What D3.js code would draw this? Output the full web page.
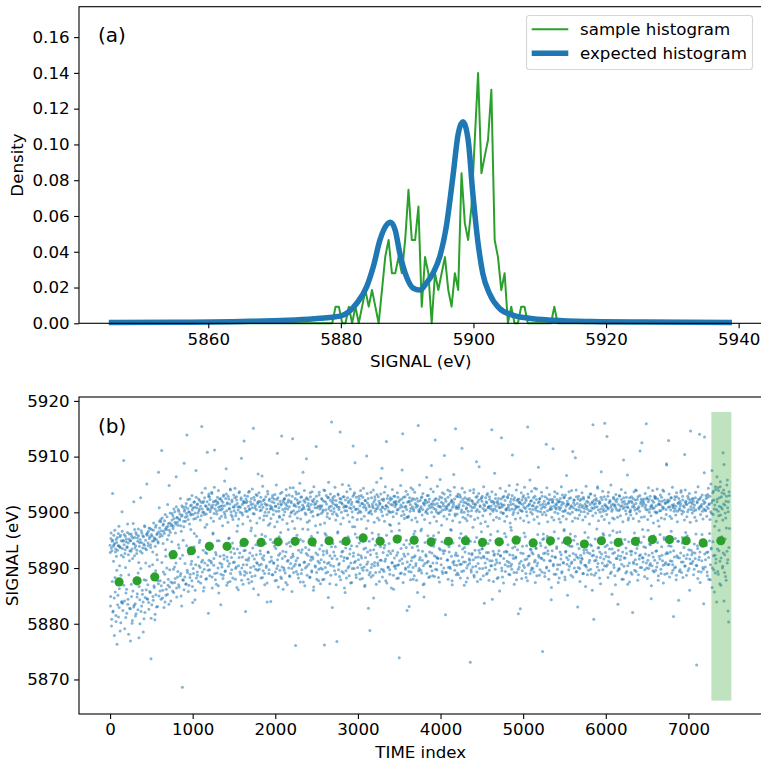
<!DOCTYPE html>
<meta charset="utf-8">
<script src="https://cdn.jsdelivr.net/npm/d3@7"></script>
<style>
body { margin: 0; background: #fff; }
text { font-family: "DejaVu Sans", sans-serif; fill: #000; }
</style>
<body>
<script>

// ---- panel (a) data ----
var histBinStart = 5876.2, histBinWidth = 0.5;
var sampleDensity = [
  0, 0, 0, 0, 0, 0, 0.0093, 0.0093, 0, 0,
  0.0093, 0, 0.0093, 0, 0.0093, 0.0186, 0.0093, 0.0186, 0.0093, 0,
  0.0186, 0.0373, 0.0466, 0.028, 0.028, 0.037, 0.028, 0.0466, 0.0746, 0.0466,
  0.0466, 0.0653, 0.0093, 0.037, 0.028, 0, 0.028, 0.0186, 0.028, 0.037,
  0.0186, 0.0093, 0.028, 0.0186, 0.0839, 0.056, 0.0466, 0.0653, 0.1026, 0.1399,
  0.0839, 0.0933, 0.1026, 0.1306, 0.0466, 0.037, 0.0186, 0.028, 0, 0.0093,
  0, 0, 0.0093, 0.0093, 0, 0, 0, 0, 0, 0,
  0, 0, 0.0093, 0, 0, 0, 0, 0
];
var expectedSignal = [5845, 5855, 5865, 5872, 5876, 5879.9, 5882.4, 5883.9, 5884.9, 5885.9,
  5886.9, 5887.5, 5888.2, 5888.9, 5889.9, 5890.9, 5891.9, 5892.9, 5893.9, 5894.9,
  5895.9, 5896.9, 5897.7, 5898.4, 5899.2, 5899.9, 5900.7, 5901.4, 5902.4, 5903.9,
  5905.9, 5908.4, 5912, 5918, 5926, 5939];
var expectedDensity = [0.0004, 0.0006, 0.001, 0.0017, 0.0026, 0.004, 0.0112, 0.0205, 0.0317, 0.0466,
  0.055, 0.0565, 0.052, 0.039, 0.026, 0.0197, 0.0186, 0.0225, 0.028, 0.037,
  0.054, 0.082, 0.106, 0.1127, 0.1025, 0.0727, 0.0447, 0.028, 0.0168, 0.0084,
  0.0046, 0.0028, 0.0017, 0.001, 0.0007, 0.0005];

// ---- panel (b) data: signal - 5880 eV, one value every 5 time indices (two interleaved samples) ----
var timeStep = 5, timeShiftB = 2, signalBase = 5880;
var signalOffsetA = [
  14.1, 3.2, 15.3, 13.6, 0.8, 14.8, 23.4, 2.1, 13.9, 15.9, 4.6, 14.4, 8.3, 12.9, 1.5, 15.1, 14.6, -3.7, 13.2, 5.1, 16.2, 14.0, 2.9, 10.4, 15.6, 13.7, 0.2, 14.9, 3.8, 20.1,
  13.5, 2.4, 15.0, 29.3, 14.2, 4.1, 12.6, 15.7, 1.1, 14.7, 6.2, 13.8, 16.4, 3.5, 14.5, -1.9, 15.2, 11.3, 13.1, 2.7, 14.9, 16.1, 4.9, 13.4, 0.6, 15.4, 18.0, 3.0, 14.3, 12.2,
  15.5, 3.6, 14.0, 1.8, 16.0, 13.2, 5.4, 14.8, 9.1, 15.8, -2.5, 13.9, 4.3, 15.1, 22.6, 2.2, 14.6, 16.3, 6.0, 13.6, 3.9, 15.6, 0.9, 14.1, 17.4, 4.7, 15.0, 7.8, 13.3, 25.1,
  15.9, 4.4, 14.5, 16.6, 2.6, 15.3, 5.8, 17.1, 14.2, -6.3, 16.0, 3.4, 15.7, 10.6, 4.9, 16.8, 14.9, 6.5, 15.4, 1.7, 17.3, 5.2, 15.1, 12.4, 16.2, 3.1, 14.7, 7.2, 16.5, 20.8,
  17.2, 5.9, 16.1, 18.3, 6.8, 31.1, 15.8, 4.6, 17.7, 9.3, 16.6, 7.4, 18.5, 3.9, 17.0, 12.1, 6.2, 16.9, 19.2, 5.3, 17.5, 8.0, 15.9, 24.8, 6.6, 18.1, 16.4, 4.1, 11.8, 17.8,
  18.6, 7.3, 19.4, 17.5, 5.6, 18.9, 10.2, 20.1, 8.1, 17.9, 26.4, 6.4, 19.0, 18.2, 9.4, 20.5, 7.0, 13.6, 18.8, 19.7, 8.6, 17.6, 5.0, 19.3, 21.2, -11.4, 7.9, 15.0, 18.4, 6.1,
  20.2, 8.4, 19.1, 21.0, 7.2, 19.8, 33.9, 9.6, 20.7, 18.7, 12.9, 6.9, 20.0, 22.4, 8.9, 19.5, 10.7, 21.3, 7.7, 20.4, 3.8, 19.6, 9.0, 21.8, 16.2, 20.9, 6.0, 18.9, 27.5, 8.2,
  20.8, 9.3, 21.5, 19.9, 7.6, 20.3, 14.6, 22.1, 10.1, 21.1, 8.5, 19.4, 35.4, 20.6, 11.4, 21.7, 5.9, 20.0, 9.8, 22.6, 17.3, 21.2, 8.0, 19.7, 12.6, 21.9, 10.5, 20.5, 1.9, 23.3,
  21.4, 9.7, 22.3, 20.5, 11.2, 21.0, 23.6, 8.4, 20.8, 16.1, 21.9, 10.5, 19.8, 31.2, 22.0, 7.9, 21.3, 12.4, 20.2, 9.1, 22.7, 21.6, 6.8, 20.9, 14.9, 22.4, 10.9, 21.1, 3.4, 20.4,
  22.1, 10.2, 20.7, 21.8, 8.7, 23.1, 11.6, 21.2, 19.6, 9.5, 22.5, 27.8, 20.3, 12.0, 21.7, 7.4, 22.9, 15.3, 20.6, 10.8, 21.5, 24.2, 9.0, 20.1, 11.9, 22.2, 19.2, 8.2, 21.0, 13.5,
  20.9, 11.1, 22.6, 21.3, 9.9, 19.9, 22.8, 6.5, 21.6, 17.6, 20.4, 10.4, 23.5, 21.0, 12.7, 20.0, 8.9, 22.3, 29.7, 10.0, 21.4, 19.5, 7.1, 22.0, 13.1, 21.8, 9.4, 20.7, 2.2, 22.4,
  21.7, 10.6, 20.2, 22.9, 8.0, 21.1, 11.8, 23.8, 20.6, 9.2, 21.9, 16.7, 22.5, 7.6, 20.8, 12.2, 21.5, 35.1, 10.3, 19.7, 22.2, 8.6, 21.2, 14.2, 20.5, 11.0, 23.0, 9.6, 21.8, 5.2,
  22.0, 9.8, 21.0, 20.3, 12.5, 22.7, 10.7, 21.4, 26.5, 8.3, 20.9, 22.1, 11.5, 19.4, 9.0, 21.6, 15.7, 22.8, 10.1, 20.6, 7.3, 21.3, 23.3, 12.8, 20.0, 9.7, 22.4, 18.0, 21.2, 4.0,
  20.7, 11.3, 21.9, 22.6, 8.8, 20.4, 10.9, 21.7, 13.9, 23.2, 9.3, 21.1, 20.2, 7.8, 22.3, 30.6, 10.4, 21.5, 12.3, 20.8, 19.3, 9.6, 22.0, 16.4, 21.3, 8.1, 23.6, 11.7, 20.5, 6.2,
  21.8, 10.0, 22.4, 20.1, 9.1, 21.5, 12.9, 23.0, 21.2, 7.0, 20.6, 11.4, 22.2, 14.6, 21.0, 8.5, 24.4, 10.8, 19.9, 21.7, 9.9, 22.9, 33.2, 12.1, 20.3, 10.3, 21.4, 17.1, 22.5, -3.9,
  21.1, 9.4, 20.0, 22.2, 11.8, 21.6, 8.2, 23.4, 20.9, 10.6, 21.9, 15.1, 22.7, 9.0, 20.4, 13.3, 21.3, 27.2, 7.5, 22.1, 20.7, 11.1, 21.8, 10.0, 19.6, 12.6, 22.6, 8.7, 21.2, 16.9,
  22.3, 10.7, 21.0, 20.5, 8.4, 22.8, 12.0, 21.4, 9.5, 23.7, 20.2, 11.6, 21.9, 6.6, 22.4, 14.0, 20.8, 10.2, 21.6, 31.8, 9.2, 22.0, 19.5, 12.4, 21.1, 7.7, 23.1, 10.9, 20.6, 17.8,
  20.9, 11.5, 22.5, 21.2, 9.8, 20.1, 13.0, 22.0, 8.0, -3.8, 23.9, 10.1, 20.4, 15.9, 21.5, 12.7, 19.8, 9.3, 22.7, 25.4, 11.0, 21.0, 7.2, 22.2, 10.5, 20.3, 13.8, 21.9, 2.9, 22.6,
  21.6, 10.3, 20.7, 22.9, 12.2, 21.3, 8.9, 22.1, 19.7, -3.2, 21.0, 16.3, 23.3, 9.7, 20.5, 10.8, 21.8, 34.4, 7.9, 22.4, 20.0, 12.9, 21.5, 14.4, 22.8, 9.1, 20.9, 11.9, 21.2, 5.6,
  22.2, 9.5, 21.1, 20.3, 11.7, 22.6, 10.0, 21.7, 24.8, 8.6, 20.8, 13.4, 22.3, 10.9, 21.4, 7.4, 20.1, 17.4, 22.9, 12.1, 21.0, 9.9, 23.5, 28.9, 11.2, 20.6, 8.3, 21.9, 15.5, 22.0,
  20.6, 12.4, 21.8, 22.4, 9.0, 21.2, 10.6, 20.0, 23.0, 11.8, 21.6, 8.1, 22.7, 14.8, 20.9, 10.2, 21.3, 6.9, 22.1, 13.6, 20.4, 30.1, 9.6, 21.7, 11.1, 22.5, 19.9, 8.8, 21.0, -1.2,
  13.2, 20.3, 8.4, 22.6, 10.7, 21.5, 15.2, 20.8, 4.6, 21.9, 10.4, 22.8, 20.2, 9.2, 21.4, 12.6, 23.2, 20.7, 10.9, 21.1, 16.0, 22.0, 7.6, 21.6, 11.4, 20.5, 26.1, 9.8, 22.3, 21.0,
  19.4, 12.8, 22.1, 9.4, 23.6, 14.1, 20.6, 11.6, 21.2, 32.7, 7.3, 22.5, 20.9, 10.1, 21.7, 13.0, 20.0, 9.7, 22.2, 17.7, 21.4, 6.4, 22.4, 11.0, 21.3, 20.1, 8.7, 22.9, 10.3, 21.8,
  21.0, 9.9, 22.0, 21.5, 12.3, 20.4, 10.5, 22.7, 8.2, 21.9, -6.1, 11.3, 20.8, 15.6, 21.3, 9.1, 22.4, 27.6, 10.8, 20.2, 21.7, 12.5, 19.6, 8.9, 22.8, 10.0, 21.1, 13.7, 20.5, 2.4,
  21.8, 19.1, 10.2, 22.0, 3.1, 22.6, 10.6, 21.4, 20.7, 9.3, 22.1, 11.9, 21.0, 24.1, 8.0, 20.3, 12.0, 22.3, 16.6, 21.6, 10.4, 20.9, 7.8, 22.5, 13.9, 21.2, 35.6, 9.5, 20.1, 11.5,
  20.2, 22.1, 9.6, 21.0, 17.0, 22.8, 11.4, 20.5, 7.0, 21.6, 4.8, 21.3, 10.8, 22.2, 20.0, 12.1, 21.7, 9.0, 23.0, 20.6, 11.2, 21.9, 14.3, 22.4, 8.5, 20.8, 10.3, 21.5, 28.4, 12.7,
  21.0, 8.6, 22.0, 15.8, 20.7, 12.2, 21.4, 33.0, 9.8, 22.5, 20.1, 10.9, 21.6, 11.8, 19.8, 8.3, 22.3, 13.5, 21.1, 25.9, 20.9, 11.7, 21.8, 22.6, 9.4, 20.4, 13.1, 21.2, 10.0, 23.3,
  14.5, 20.5, 1.6, 22.0, 9.2, 21.1, 20.6, 11.5, 22.7, 10.1, 21.5, 12.9, 20.3, 23.8, 9.9, 21.8, 16.8, 22.2, 7.7, 20.9, 11.0, 21.3, 26.8, 10.6, 22.4, 19.7, 12.3, 21.0, 8.8, 22.9,
  21.0, 9.1, 22.8, 20.7, 11.3, 21.4, 15.4, 23.1, 8.2, 21.9, 10.7, 20.4, 31.5, 12.0, 22.3, 21.2, 9.5, 20.0, 13.7, 22.6, 11.1, 21.7, 7.5, 20.8, 18.5, 21.5, 10.5, 20.2, 22.1, 12.6,
  22.5, 11.4, -6.9, 21.1, 9.7, 20.3, 12.4, 22.0, 10.2, 21.6, 23.5, 8.7, 20.9, 14.7, 21.3, 11.9, 22.7, 29.1, 9.3, 20.5, 21.8, 10.8, 22.2, 13.2, 20.1, 12.7, 21.0, 8.0, 22.4, 16.5,
  13.4, 22.9, 9.9, 20.7, 12.1, 21.4, 3.7, 21.2, 10.9, 22.6, 20.4, 8.9, 21.7, 11.6, 23.4, 20.8, 12.8, 21.1, 9.6, 22.3, 15.0, 20.6, 10.4, 21.9, 34.8, 11.3, 22.0, 20.2, 7.6, 21.5,
  21.8, 27.0, 10.6, 22.5, 21.1, 11.5, 20.3, 8.1, 22.0, 12.5, 21.4, 14.9, 20.9, 5.9, 20.8, 12.2, 21.6, 22.4, 10.0, 21.0, 8.4, 22.7, 19.9, 11.7, 21.3, 16.2, 22.1, 9.4, 20.5, 13.0,
  20.7, 12.9, 22.8, 10.3, 21.3, 23.2, 11.0, 20.4, 8.8, 21.9, 17.3, 22.4, 10.7, 20.6, 30.3, 12.3, 21.5, 20.0, 9.2, 22.6, 13.8, 21.2, 11.8, 20.8, 7.9, 22.1, 25.0, 22.3, 9.8, 21.0,
  21.8, 10.8, 20.4, 2.7, 21.6, 11.2, 20.3, 22.2, 9.5, 21.4, 12.6, 23.0, 20.9, 10.1, 21.7, 15.6, 22.5, 8.3, 20.1, 11.6, 21.1, 35.3, 10.5, 22.7, 21.3, 12.2, 20.6, 9.0, 22.0, 13.3,
  22.1, 10.0, 21.2, 20.5, 12.5, 22.6, 9.3, 21.7, 24.3, 11.4, 20.8, 13.6, 22.3, 8.6, 21.0, 10.9, 20.2, 28.1, 12.0, 21.9, 22.4, 9.7, 21.3, 14.0, 20.7, 11.7, 22.9, -5.0, 21.5, 16.1,
  15.3, 22.0, 9.1, 20.9, 12.7, 21.4, 32.2, 10.2, 22.5, 20.3, 13.1, 21.7, 8.0, 22.2, 11.3, 20.5, 14.4, 21.0, 4.3, 20.6, 12.1, 21.8, 22.3, 10.4, 21.1, 8.9, 22.8, 20.0, 11.9, 21.5,
  20.6, 13.5, 22.3, 9.8, 21.8, 7.4, 20.9, 18.8, 21.9, 10.6, 22.5, 20.8, 12.4, 21.3, 9.4, 23.1, 20.2, 11.0, 21.6, 16.7, 22.7, 8.4, 20.4, 12.9, 21.1, 26.6, 10.7, 22.0, 21.4, 11.5,
  21.5, 23.7, 10.3, 20.7, 13.9, 22.6, 8.7, 21.2, 11.1, 20.0, 30.9, 12.6, 21.7, 22.2, 10.0, 21.3, 15.7, 20.5, 9.3, 22.8, 12.0, 21.6, 3.0, 22.4, 11.8, 21.0, 20.4, 9.9, 22.1, 12.3,
  10.9, 22.4, 20.9, 11.6, 21.2, 9.0, 22.7, 13.2, 20.1, 10.5, 21.5, 6.7, 21.1, 10.2, 22.0, 20.6, 12.8, 21.8, 9.6, 22.6, 20.3, 11.4, 21.4, 14.2, 23.3, 8.9, 20.8, 12.2, 21.9, 35.7,
  20.7, 0.8, 22.2, 11.3, 20.9, 21.6, 9.1, 22.5, 12.0, 21.0, 24.6, 10.8, 20.4, 13.7, 22.0, 8.2, 21.7, 11.9, 20.6, 27.3, 12.5, 22.3, 21.1, 9.7, 20.2, 15.9, 22.8, 10.4, 21.4, 12.8,
  20.3, 12.1, 21.0, 33.6, 10.6, 22.9, 20.6, 11.2, 21.7, 13.4, 22.1, 9.0, 20.9, 14.6, 21.3, 5.3, 20.5, 12.6, 21.5, 22.7, 10.1, 21.2, 8.6, 22.2, 20.8, 11.7, 21.9, 16.4, 22.4, 9.5,
  12.2, 21.4, 9.8, 23.0, 20.5, 11.5, 21.1, 15.2, 22.3, 8.0, 21.8, 12.9, 20.7, 29.4, 10.3, 22.0, 21.5, 11.8, 20.3, 13.6, 22.7, 9.4, 21.0, 7.1, 20.8, 19.0, 21.7, 10.9, 22.6, 20.1,
  20.4, 9.2, 22.0, 13.0, 21.7, 2.0, 22.5, 11.1, 21.3, 20.9, 9.6, 22.2, 12.7, 21.6, 23.9, 10.7, 20.6, 14.1, 22.8, 8.8, 21.0, 11.6, 20.2, 31.0, 12.4, 21.9, 22.4, 10.1, 21.2, 16.9,
  11.8, 21.5, 13.8, 22.4, 8.5, 20.9, 12.5, 21.3, 35.9, 10.0, 22.6, 20.4, 11.4, 21.9, 9.9, 22.3, 14.3, 20.6, 10.8, 21.1, 4.5, 21.0, 10.4, 22.1, 20.7, 12.0, 21.8, 9.3, 22.9, 20.1,
  22.5, 9.6, 21.2, 13.1, 20.0, 10.9, 22.4, 7.8, 21.5, 17.5, 22.0, 11.6, 21.4, 20.3, 9.0, 22.7, 12.3, 21.0, 24.0, 10.5, 20.8, 15.5, 22.2, 8.9, 21.6, 11.0, 20.5, 28.7, 12.8, 21.8,
  12.6, 21.9, 32.9, 10.7, 22.1, 21.0, 11.3, 20.4, 13.9, 22.6, 9.1, 21.3, 10.6, 20.8, 1.3, 21.4, 12.0, 22.3, 20.6, 10.2, 21.1, 8.7, 22.8, 20.2, 11.9, 21.7, 14.8, 22.5, 9.4, 20.7,
  9.7, 21.6, 23.6, 11.1, 20.3, 14.5, 22.9, 8.3, 21.2, 12.2, 20.9, 30.4, 10.4, 21.8, 22.0, 11.7, 21.4, 15.8, 20.1, 9.5, 22.5, 13.3, 21.7, 6.0, 22.2, 10.8, 21.0, 20.5, 12.4, 22.4,
  21.5, 11.2, 22.0, 20.8, 9.8, 21.3, 12.7, 22.6, 20.4, 10.5, -7.4, 21.9, 14.0, 8.1, 22.3, 11.5, 20.6, 34.0, 12.9, 21.1, 22.7, 9.3, 21.4, 16.0, 20.2, 10.1, 22.1, 3.6, 21.6, 33.5,
  21.8, 10.2, 20.3, 22.5, 12.8, 21.0, 8.6, 23.2, 20.7, 11.9, 21.5, 14.9, 22.9, 7.9, 20.1, 13.4, 21.7, 27.5, 10.0, 23.5, 19.6, 12.2, 22.2, 5.7, 21.3, 9.1, 24.1, 11.6, 20.5, 26.4,
  22.4, 9.4, 20.2, 23.9, 13.1, 21.1, 7.2, 24.6, 19.5, 11.8, 22.8, 15.6, 20.6, 10.3, 30.7, 21.5, 4.1, 23.3, 12.4, 19.9, 8.5, 22.0, 17.2, 24.9, 10.9, 20.8, 2.3, 21.9, 13.7, 23.0
];
var signalOffsetB = [
  12.8, 4.9, 16.3, -0.4, 13.1, 7.6, 15.0, 2.3, 11.2, 14.2, -2.1, 16.8, 5.7, 13.4, 0.4, 12.1, 9.6, 15.5, 3.4, 14.0, 1.2, 17.5, 6.3, 13.8, -1.3, 15.9, 8.7, 12.3, 4.0, 16.6,
  3.7, 14.8, 12.0, 6.9, 16.0, -0.9, 13.3, 10.1, 5.5, 15.2, 1.9, 13.7, 17.9, 4.4, 12.4, 8.8, 16.1, 2.8, 14.9, -3.1, 13.0, 7.1, 15.7, 0.1, 11.7, 5.9, 14.4, 21.9, 3.3, 16.9,
  13.6, 1.4, 16.4, 8.2, 12.6, 4.8, 15.4, 2.5, 17.0, 11.0, 6.7, 14.6, 0.0, 13.0, 9.9, 16.7, 3.2, 12.7, 5.3, 15.8, -1.5, 14.3, 7.9, 17.6, 2.0, 13.5, 10.9, 6.1, 16.1, 4.5,
  16.3, 7.0, 14.0, 3.8, 17.2, 10.3, 15.6, 5.6, 13.7, 1.0, 16.9, 8.6, 14.8, 12.9, 4.2, 18.1, 6.8, 15.2, 0.7, 13.9, 9.5, 17.7, 3.0, 16.0, 11.5, 7.7, 14.5, 27.2, 5.0, 18.4,
  15.6, 7.7, 18.7, 4.4, 16.7, 11.0, 19.0, 6.0, 14.4, 17.9, 2.9, 16.2, 8.9, 19.6, 13.3, 5.1, 17.3, 10.0, 15.1, 21.4, 6.9, 18.0, 3.5, 16.8, 9.7, 19.9, 12.6, 7.5, 17.6, 14.7,
  19.8, 5.9, 17.1, 9.8, 20.6, 13.0, 7.4, 18.2, 16.3, 10.9, 21.0, 4.8, 19.1, 8.4, 17.7, 14.2, 20.2, 6.6, 18.6, 11.7, 22.5, 9.0, 16.6, 3.2, 19.5, 12.3, 20.9, 7.8, 17.4, 28.8,
  20.5, 10.8, 18.4, 7.1, 21.6, 14.0, 19.3, 9.2, 22.3, 5.8, 20.1, 12.5, 17.9, 8.3, 21.2, 16.9, 19.7, 11.2, 23.0, 6.7, 20.8, 9.9, 18.8, 13.8, 21.9, 4.3, 19.9, 10.6, 22.7, 15.7,
  21.4, 8.7, 19.2, 12.0, 22.4, 10.4, 20.6, 15.0, 18.6, 7.3, 21.8, 11.1, 23.5, 9.3, 20.0, 13.2, 22.0, 6.5, 19.6, 10.9, 24.3, 12.8, 21.1, 8.1, 17.8, 30.8, 20.7, 9.6, 22.9, 11.4,
  22.8, 8.6, 20.1, 13.7, 19.0, 10.9, 23.4, 6.4, 21.3, 16.3, 18.4, 11.7, 24.5, 9.0, 20.6, 12.8, 22.1, 7.1, 19.7, 14.9, 21.8, 10.0, 23.9, 5.5, 20.4, 18.9, 12.1, 22.5, 8.9, 19.3,
  10.7, 21.2, 17.6, 8.1, 22.9, 12.3, 20.0, 25.6, 9.4, 19.1, 13.9, 23.3, 6.9, 21.5, 11.3, 18.2, 10.3, 22.4, 15.4, 20.7, 7.6, 24.0, 12.9, 19.5, 9.7, 21.9, 14.5, 18.7, 11.0, 23.1,
  20.3, 12.6, 24.3, 8.0, 19.4, 10.2, 22.2, 16.6, 13.4, 21.0, 6.1, 18.8, 11.9, 23.7, 9.3, 20.9, 14.0, 22.6, 7.8, 19.9, 12.0, 17.9, 10.6, 21.7, 32.8, 8.7, 23.0, 13.2, 20.2, 11.5,
  9.1, 22.0, 14.7, 19.2, 11.4, 23.6, 7.3, 20.5, 12.7, 18.5, 10.1, 21.4, 17.2, 8.5, 24.2, 13.6, 19.8, 6.3, 22.7, 11.6, 20.8, 15.8, 9.8, 23.2, 12.4, 18.1, 10.8, 21.6, 26.9, 14.1,
  23.5, 10.5, 19.0, 13.1, 21.9, 8.2, 20.4, 16.0, 11.8, 24.7, 9.5, 18.6, 12.2, 22.3, 7.0, 20.0, 14.4, 21.3, 10.4, 19.4, 3.9, 23.8, 12.9, 17.7, 9.0, 22.1, 11.1, 20.6, 15.1, 18.9,
  12.0, 20.9, 8.8, 23.0, 14.6, 19.6, 10.9, 22.4, 17.4, 7.7, 21.1, 13.5, 24.9, 9.9, 18.3, 11.5, 22.6, 6.6, 20.2, 15.6, 19.1, 12.6, 23.4, 8.4, 21.5, 33.7, 10.2, 18.7, 13.0, 22.2,
  19.5, 9.6, 22.5, 12.1, 20.7, 7.4, 24.1, 14.3, 18.0, 11.2, 21.8, 16.9, 10.0, 23.1, 8.6, 19.3, 13.9, 22.0, 11.9, 20.1, 5.8, 18.4, 12.5, 24.4, 9.2, 21.2, 15.3, 19.7, 10.7, 23.7,
  11.3, 23.3, 15.9, 19.0, 8.9, 21.7, 13.2, 20.3, 10.5, 25.2, 7.5, 18.8, 12.8, 22.8, 9.7, 20.6, 17.0, 14.8, 21.0, 11.0, 23.9, 6.8, 19.9, 13.7, 22.4, 29.6, 10.3, 18.2, 12.3, 20.5,
  21.6, 13.3, 18.5, 8.3, 23.5, 11.4, 20.0, 15.7, 9.3, 22.1, 12.0, 19.3, 6.0, 24.6, 14.2, 21.4, 10.4, 17.6, 12.7, 22.9, 8.0, 20.8, 16.4, 11.2, 19.6, 9.8, 23.6, 13.4, 21.2, 7.2,
  10.0, 19.8, 14.1, 22.3, 7.9, 20.4, 12.4, 24.0, 11.1, 18.1, 16.2, 21.9, 9.1, 23.0, 13.1, 19.2, 10.8, 22.6, 4.7, 20.6, 15.0, 18.9, 12.2, 23.3, 8.7, 21.1, 36.2, 11.7, 19.7, 14.4,
  22.2, 12.9, 20.1, 9.5, 24.5, 13.8, 18.6, 7.0, 21.3, 11.6, 19.4, 16.5, 23.1, 10.6, 20.9, 8.5, 22.5, 14.7, 17.9, 12.1, 21.7, 9.4, 25.0, 13.0, 19.0, 11.3, 22.8, 6.4, 20.3, 15.4,
  13.6, 21.0, 8.2, 23.7, 11.8, 19.5, 15.6, 22.0, 10.3, 18.3, 12.5, 24.2, 7.3, 20.7, 14.0, 21.8, 9.9, 19.1, 31.9, 12.7, 23.2, 11.0, 17.4, 16.1, 20.5, 8.8, 22.7, 13.9, 18.7, 10.1,
  19.9, 11.5, 22.9, 14.5, 20.2, 8.0, 23.9, 12.2, 18.8, 10.0, 21.6, 15.2, 9.6, 24.3, 13.4, 19.3, 6.7, 22.1, 11.9, 20.8, 17.1, 10.7, 23.4, 12.9, 18.5, 2.8, 21.3, 14.8, 20.0, 9.2,
  12.4, 23.6, 10.1, 19.7, 16.3, 21.1, 8.7, 24.0, 13.3, 18.2, 11.0, 22.3, 14.1, 20.6, 7.1, 25.4, 12.0, 19.0, 10.5, 22.8, 15.5, 18.6, 9.3, 21.5, 13.8, 23.3, 11.4, 20.1, 27.9, 8.4,
  20.8, 9.7, 22.4, 13.6, 18.4, 11.2, 24.6, 7.7, 21.2, 15.9, 19.6, 12.3, 23.0, 10.2, 20.3, 14.4, 17.8, 8.9, 22.6, 12.6, 20.0, 16.6, 10.9, 24.1, 13.1, 19.2, 6.2, 21.8, 11.8, 22.9,
  10.4, 21.4, 14.9, 19.8, 8.1, 23.5, 12.8, 20.5, 10.6, 18.0, 16.8, 22.2, 9.0, 24.8, 13.5, 19.4, 11.6, 21.0, 34.1, 7.4, 22.7, 14.2, 18.9, 12.1, 20.9, 9.8, 23.8, 15.0, 19.1, 11.1,
  23.2, 12.5, 19.3, 9.4, 21.9, 14.3, 20.2, 7.9, 24.4, 11.3, 18.6, 13.7, 22.5, 10.1, 20.6, 16.1, 8.6, 23.6, 12.2, 19.0, 10.8, 21.3, 15.4, 18.3, 5.6, 22.0, 13.2, 20.4, 9.9, 24.9,
  11.9, 20.7, 16.7, 22.6, 9.1, 19.5, 13.0, 23.4, 10.4, 21.7, 7.2, 18.7, 14.6, 22.1, 12.4, 20.3, 26.3, 11.0, 19.8, 15.8, 23.0, 8.3, 21.2, 12.9, 18.1, 10.3, 24.2, 14.0, 20.0, 9.5,
  21.5, 10.9, 23.7, 13.9, 19.2, 8.5, 22.3, 15.1, 20.5, 12.0, 18.4, 9.7, 24.7, 11.7, 21.1, 16.4, 19.9, 7.5, 22.8, 13.3, 20.1, 10.6, 17.7, 14.7, 23.5, 9.0, 21.6, 12.6, 19.3, 30.2,
  13.1, 22.4, 9.2, 20.9, 15.3, 18.8, 11.4, 24.0, 8.0, 21.3, 13.8, 19.6, 10.2, 23.1, 16.9, 20.4, 12.1, 22.0, 7.0, 18.5, 14.5, 21.7, 11.2, 24.5, 9.6, 19.4, 35.0, 12.7, 20.7, 10.5,
  19.7, 12.2, 23.3, 8.8, 21.0, 14.0, 18.2, 10.7, 22.7, 16.2, 20.0, 9.4, 24.3, 13.4, 19.1, 11.1, 21.8, 6.9, 23.6, 12.9, 18.9, 15.7, 20.6, 10.0, 22.4, 8.2, 19.5, 14.3, 21.4, 11.6,
  10.8, 23.9, 14.8, 19.3, 9.3, 22.1, 12.6, 20.8, 17.3, 11.5, 24.1, 8.4, 18.7, 13.2, 21.5, 10.3, 20.2, 15.5, 22.9, 7.6, 19.0, 12.0, 23.4, 28.2, 9.9, 21.2, 14.1, 18.0, 11.8, 22.6,
  22.0, 13.5, 19.4, 8.6, 24.6, 11.9, 20.3, 15.0, 18.3, 10.1, 21.9, 12.8, 23.1, 9.1, 17.5, 14.4, 20.9, 7.8, 22.8, 11.3, 19.7, 16.0, 21.1, 10.4, 23.7, 4.4, 20.5, 13.0, 18.6, 12.3,
  12.5, 20.6, 9.8, 23.2, 14.9, 19.1, 11.0, 21.7, 16.6, 8.3, 22.5, 13.1, 18.9, 10.9, 24.3, 12.2, 20.0, 33.4, 9.5, 21.3, 14.6, 19.8, 7.3, 22.9, 12.9, 18.4, 10.6, 23.8, 15.6, 20.4,
  19.3, 11.2, 22.6, 14.2, 20.9, 8.9, 24.8, 12.4, 18.1, 10.3, 21.4, 16.8, 9.8, 23.0, 13.6, 19.6, 11.7, 22.2, 7.1, 20.5, 15.2, 18.8, 12.0, 24.0, 9.2, 21.0, 13.3, 19.9, 1.8, 22.4,
  10.2, 21.8, 15.4, 19.0, 12.7, 23.5, 8.1, 20.2, 13.9, 22.7, 10.5, 18.5, 16.3, 24.5, 11.5, 20.7, 9.0, 22.1, 14.0, 19.4, 7.7, 23.3, 12.1, 18.2, 10.8, 21.5, 25.8, 13.4, 20.0, 9.6,
  23.8, 12.8, 19.7, 9.9, 21.2, 14.8, 18.7, 11.1, 22.9, 7.4, 20.4, 13.5, 24.2, 10.4, 19.2, 16.0, 21.7, 12.3, 18.0, 8.7, 22.5, 14.5, 20.1, 11.8, 23.6, 9.3, 19.6, 15.1, 21.0, 12.6,
  11.4, 20.0, 8.5, 22.8, 13.7, 19.5, 10.0, 24.4, 15.7, 18.3, 12.5, 21.6, 9.5, 23.2, 14.2, 20.6, 11.3, 22.3, 6.5, 19.1, 13.1, 21.9, 31.4, 10.7, 18.6, 16.5, 23.7, 12.0, 20.8, 8.9,
  21.3, 13.8, 23.4, 10.6, 19.8, 15.3, 22.0, 8.2, 20.5, 12.9, 18.2, 11.6, 24.6, 9.1, 21.8, 14.6, 19.3, 10.9, 22.6, 16.9, 20.2, 7.9, 23.1, 13.0, 18.8, 11.9, 21.5, 5.1, 19.9, 14.1,
  9.7, 22.5, 12.2, 19.7, 16.1, 21.0, 10.8, 23.9, 13.9, 18.4, 8.4, 20.8, 15.0, 22.2, 11.5, 19.0, 29.8, 12.4, 24.0, 9.4, 20.4, 14.3, 18.9, 10.1, 22.9, 13.5, 19.5, 7.6, 21.4, 11.2,
  20.1, 11.8, 23.5, 14.7, 18.6, 9.0, 22.4, 12.7, 20.7, 16.4, 19.2, 10.5, 24.7, 13.3, 21.1, 8.8, 19.8, 15.5, 22.8, 11.0, 17.9, 12.6, 23.3, 9.8, 20.3, 14.0, 21.7, 6.0, 19.4, 13.1,
  12.3, 21.4, 8.7, 23.0, 15.2, 19.9, 11.4, 22.1, 17.0, 10.2, 24.3, 13.6, 18.5, 9.6, 21.6, 12.9, 20.0, 7.2, 22.7, 14.5, 19.3, 10.9, 23.8, 16.2, 20.6, 11.6, 18.7, 36.0, 13.8, 21.2,
  22.3, 10.3, 19.6, 14.1, 20.8, 8.3, 23.6, 12.0, 18.1, 15.9, 21.9, 11.0, 24.9, 9.3, 20.2, 13.4, 19.0, 16.7, 22.5, 10.6, 18.8, 12.8, 21.3, 7.0, 23.2, 14.9, 20.4, 11.7, 19.1, 3.5,
  13.2, 20.3, 9.9, 22.9, 16.5, 19.4, 12.1, 24.1, 10.7, 21.2, 14.3, 18.3, 8.0, 22.6, 11.8, 20.9, 15.1, 23.5, 9.1, 19.7, 12.6, 21.5, 26.7, 10.4, 18.6, 14.7, 22.0, 7.5, 20.1, 13.0,
  19.5, 12.4, 22.8, 8.9, 21.0, 14.4, 18.9, 10.8, 23.7, 16.3, 20.4, 11.5, 24.0, 9.4, 19.8, 13.5, 22.3, 7.8, 20.7, 15.4, 18.4, 12.2, 23.0, 10.1, 21.6, 14.6, 19.1, 32.5, 11.9, 22.1,
  11.1, 21.8, 15.6, 19.2, 9.7, 23.4, 13.7, 20.5, 10.9, 22.4, 8.1, 18.7, 16.8, 24.4, 12.3, 20.0, 10.5, 22.9, 14.2, 19.4, 6.8, 21.3, 12.7, 23.9, 9.5, 18.1, 15.8, 20.8, 11.4, 22.6,
  22.7, 13.0, 19.9, 10.2, 24.2, 14.6, 18.5, 8.6, 21.4, 12.1, 20.3, 16.0, 23.1, 9.8, 19.0, 13.8, 22.0, 11.3, 20.6, 7.3, 23.8, 15.1, 18.8, 10.7, 21.7, 12.5, 19.6, 28.5, 9.0, 22.2,
  10.6, 20.9, 14.0, 23.3, 8.4, 19.3, 12.9, 22.6, 16.6, 18.9, 11.2, 24.5, 9.6, 21.1, 13.1, 20.2, 10.0, 22.8, 15.3, 19.5, 7.9, 23.5, 12.2, 18.3, 14.8, 21.6, 4.2, 20.4, 11.8, 22.0,
  21.2, 12.7, 23.9, 9.2, 19.7, 15.5, 22.2, 11.1, 20.1, 13.7, 18.6, 10.3, 24.0, 16.4, 21.5, 8.7, 19.2, 12.4, 22.9, 14.9, 20.5, 9.9, 23.4, 11.6, 18.2, 34.6, 13.2, 21.8, 10.8, 19.9,
  12.8, 22.5, 8.8, 20.3, 14.3, 19.1, 11.7, 23.6, 16.1, 18.5, 10.4, 21.7, 13.5, 24.6, 9.4, 20.8, 12.0, 22.4, 7.4, 19.6, 15.0, 21.0, 11.3, 23.1, 13.9, 18.8, 9.8, 20.6, 27.1, 12.5,
  20.4, 11.5, 23.0, 14.1, 19.3, 9.3, 22.7, 12.9, 24.3, 8.0, 21.4, 16.2, 18.7, 10.6, 25.1, 13.6, 19.8, 6.5, 22.1, 14.7, 23.8, 9.7, 20.6, 17.5, 12.3, 24.6, 10.9, 18.4, 3.9, 21.9,
  13.4, 24.4, 8.9, 19.4, 16.8, 22.6, 11.2, 25.5, 6.9, 20.9, 14.5, 23.5, 10.0, 18.6, 12.7, 24.0, 28.6, 9.2, 21.3, 15.2, 19.0, 7.8, 22.9, 13.0, 25.8, 11.5, 20.1, 0.3, 23.7, 17.1
];
var windowTime = [109, 327, 541, 763, 984, 1202, 1416, 1622, 1828, 2034, 2240, 2446, 2651, 2857, 3063, 3269, 3475, 3680,
  3886, 4096, 4302, 4508, 4709, 4915, 5121, 5330, 5536, 5741, 5947, 6150, 6359, 6564, 6771, 6973, 7179, 7393];
var windowMean = [5887.5, 5887.7, 5888.4, 5892.4, 5893.1, 5893.9, 5893.9, 5894.6, 5894.6, 5894.7, 5894.8, 5894.7, 5894.9, 5894.8, 5895.4, 5894.8, 5895.2, 5895.0,
  5894.7, 5894.8, 5894.9, 5894.6, 5894.7, 5895.0, 5894.5, 5894.9, 5894.9, 5894.3, 5894.9, 5894.6, 5894.8, 5895.1, 5895.1, 5894.9, 5894.5, 5894.9];
var spanTime = [7278, 7520], spanSignal = [5866.2, 5918.0];

var width = 761, height = 763;
var fontSize = "16.67px";
var blue = "#1f77b4", green = "#2ca02c";

var svg = d3.select("body").append("svg")
    .attr("width", width)
    .attr("height", height);

function drawAxes(g, x, y, xTicks, yTicks, yFmt, xLabel, yLabel, yLabelX) {
  var r = x.range(), t = y.range();
  var xa = g.append("g")
      .attr("transform", "translate(0," + t[0] + ")")
      .call(d3.axisBottom(x).tickValues(xTicks).tickSize(4.9).tickPadding(4.5).tickFormat(d3.format("d")));
  var ya = g.append("g")
      .attr("transform", "translate(" + r[0] + ",0)")
      .call(d3.axisLeft(y).tickValues(yTicks).tickSize(4.9).tickPadding(4.5).tickFormat(yFmt));
  [xa, ya].forEach(function(a) {
    a.select(".domain").remove();
    a.selectAll(".tick line").attr("stroke", "#000").attr("stroke-width", 1.1);
    a.selectAll(".tick text").style("font-size", fontSize).style("font-family", "DejaVu Sans");
  });
  g.append("rect")
      .attr("x", r[0]).attr("y", t[1])
      .attr("width", r[1] - r[0]).attr("height", t[0] - t[1])
      .attr("fill", "none").attr("stroke", "#000").attr("stroke-width", 1.1);
  g.append("text")
      .attr("x", (r[0] + r[1]) / 2).attr("y", t[0] + 44)
      .attr("text-anchor", "middle")
      .style("font-size", fontSize)
      .text(xLabel);
  g.append("text")
      .attr("transform", "translate(" + yLabelX + "," + (t[0] + t[1]) / 2 + ") rotate(-90)")
      .attr("text-anchor", "middle")
      .style("font-size", fontSize)
      .text(yLabel);
}

// ---------- panel (a) ----------
var xa = d3.scaleLinear().domain([5840.5, 5943.6]).range([79, 762.5]);
var ya = d3.scaleLinear().domain([0, 0.177]).range([323.3, 6.7]);
var ga = svg.append("g");

var sample = [[5845, 0]];
sampleDensity.forEach(function(v, i) { sample.push([histBinStart + i * histBinWidth, v]); });
sample.push([5939, 0]);

ga.append("path")
    .datum(sample)
    .attr("fill", "none")
    .attr("stroke", green)
    .attr("stroke-width", 2)
    .attr("stroke-linejoin", "round")
    .attr("d", d3.line().x(function(d) { return xa(d[0]); }).y(function(d) { return ya(d[1]); }));

ga.append("path")
    .datum(d3.zip(expectedSignal, expectedDensity))
    .attr("fill", "none")
    .attr("stroke", blue)
    .attr("stroke-width", 5.5)
    .attr("stroke-linejoin", "round")
    .attr("d", d3.line().curve(d3.curveMonotoneX).x(function(d) { return xa(d[0]); }).y(function(d) { return ya(d[1]); }));

drawAxes(ga, xa, ya, d3.range(5860, 5941, 20), d3.range(0, 0.161, 0.02), d3.format(".2f"),
  "SIGNAL (eV)", "Density", 23);

ga.append("text").attr("x", 98).attr("y", 42).style("font-size", "20px").text("(a)");

// legend
var leg = ga.append("g");
leg.append("rect")
    .attr("x", 526.5).attr("y", 15.5).attr("width", 226).attr("height", 54).attr("rx", 3)
    .attr("fill", "#fff").attr("fill-opacity", 0.8)
    .attr("stroke", "#d6d6d6").attr("stroke-width", 1.1);
[["sample histogram", green, 2, 29.3], ["expected histogram", blue, 5.5, 53.3]].forEach(function(e) {
  leg.append("line")
      .attr("x1", 531.7).attr("x2", 568.3).attr("y1", e[3]).attr("y2", e[3])
      .attr("stroke", e[1]).attr("stroke-width", e[2]);
  leg.append("text")
      .attr("x", 580).attr("y", e[3] + 6)
      .style("font-size", fontSize)
      .text(e[0]);
});

// ---------- panel (b) ----------
var xb = d3.scaleLinear().domain([-376, 7897]).range([79, 762.5]);
var yb = d3.scaleLinear().domain([5863.8, 5920.7]).range([714, 397]);
var gb = svg.append("g");

var points = [];
signalOffsetA.forEach(function(d, i) { points.push([i * timeStep, signalBase + d]); });
signalOffsetB.forEach(function(d, i) { points.push([i * timeStep + timeShiftB, signalBase + d]); });

gb.append("g").selectAll("circle")
    .data(points)
    .enter().append("circle")
    .attr("cx", function(d) { return xb(d[0]); })
    .attr("cy", function(d) { return yb(d[1]); })
    .attr("r", 1.5)
    .attr("fill", blue)
    .attr("fill-opacity", 0.55);

gb.append("rect")
    .attr("x", xb(spanTime[0])).attr("width", xb(spanTime[1]) - xb(spanTime[0]))
    .attr("y", yb(spanSignal[1])).attr("height", yb(spanSignal[0]) - yb(spanSignal[1]))
    .attr("fill", green).attr("fill-opacity", 0.3);

gb.append("g").selectAll("circle")
    .data(d3.zip(windowTime, windowMean))
    .enter().append("circle")
    .attr("cx", function(d) { return xb(d[0]); })
    .attr("cy", function(d) { return yb(d[1]); })
    .attr("r", 4.6)
    .attr("fill", green);

drawAxes(gb, xb, yb, d3.range(0, 7001, 1000), d3.range(5870, 5921, 10), d3.format("d"),
  "TIME index", "SIGNAL (eV)", 18);

gb.append("text").attr("x", 98).attr("y", 433).style("font-size", "20px").text("(b)");

</script>
</body>
